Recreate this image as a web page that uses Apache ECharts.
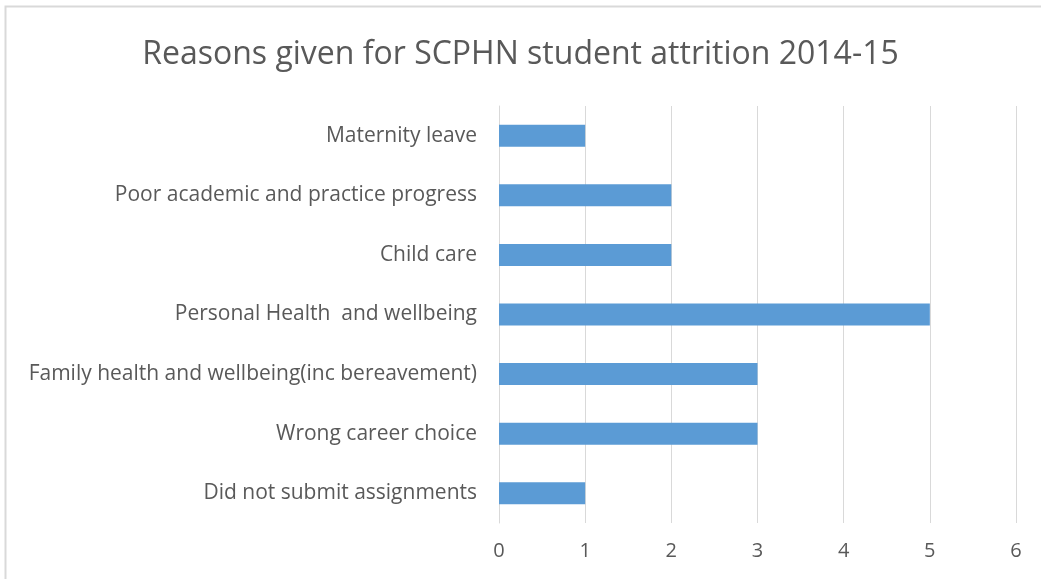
<!DOCTYPE html>
<html>
<head>
<meta charset="utf-8">
<title>SCPHN attrition</title>
<script src="https://cdn.jsdelivr.net/npm/echarts@6/dist/echarts.min.js"></script>
<style>
  html, body { margin: 0; padding: 0; background: #fff; }
  #chart { width: 1041px; height: 579px; }
</style>
</head>
<body>
<div id="chart"></div>
<script>
// categories listed bottom to top (category axis on y starts at the bottom)
var reasons = [
  'Did not submit assignments',
  'Wrong career choice',
  'Family health and wellbeing(inc bereavement)',
  'Personal Health  and wellbeing',
  'Child care',
  'Poor academic and practice progress',
  'Maternity leave'
];
var counts = [1, 3, 3, 5, 2, 2, 1];
var xTicks = [0, 1, 2, 3, 4, 5, 6];

var fontFam = '"Open Sans", "Noto Sans", sans-serif';

var myChart = echarts.init(document.getElementById('chart'));
myChart.setOption({
  backgroundColor: '#fff',
  animation: false,
  title: {
    text: 'Reasons given for SCPHN student attrition 2014-15',
    left: 'center',
    top: 34,
    textStyle: { color: '#595959', fontSize: 32, fontWeight: 'normal', fontFamily: fontFam }
  },
  graphic: [{
    type: 'rect',
    shape: { x: 5.5, y: 6.5, width: 1100, height: 700 },
    style: { fill: 'none', stroke: '#d9d9d9', lineWidth: 2 },
    silent: true
  }],
  grid: { left: 499, right: 25, top: 106, bottom: 56 },
  xAxis: {
    type: 'value',
    min: xTicks[0],
    max: xTicks[xTicks.length - 1],
    interval: 1,
    axisLine: { show: false },
    axisTick: { show: false },
    axisLabel: { color: '#595959', fontSize: 20, fontFamily: fontFam, margin: 18 },
    splitLine: { lineStyle: { color: '#d9d9d9', width: 1 } }
  },
  yAxis: {
    type: 'category',
    data: reasons,
    axisLine: { lineStyle: { color: '#d9d9d9' } },
    axisTick: { show: false },
    axisLabel: { color: '#595959', fontSize: 21, fontFamily: fontFam, margin: 22 }
  },
  series: [{
    type: 'bar',
    data: counts,
    barWidth: 22,
    itemStyle: { color: '#5b9bd5' }
  }]
});
</script>
</body>
</html>
